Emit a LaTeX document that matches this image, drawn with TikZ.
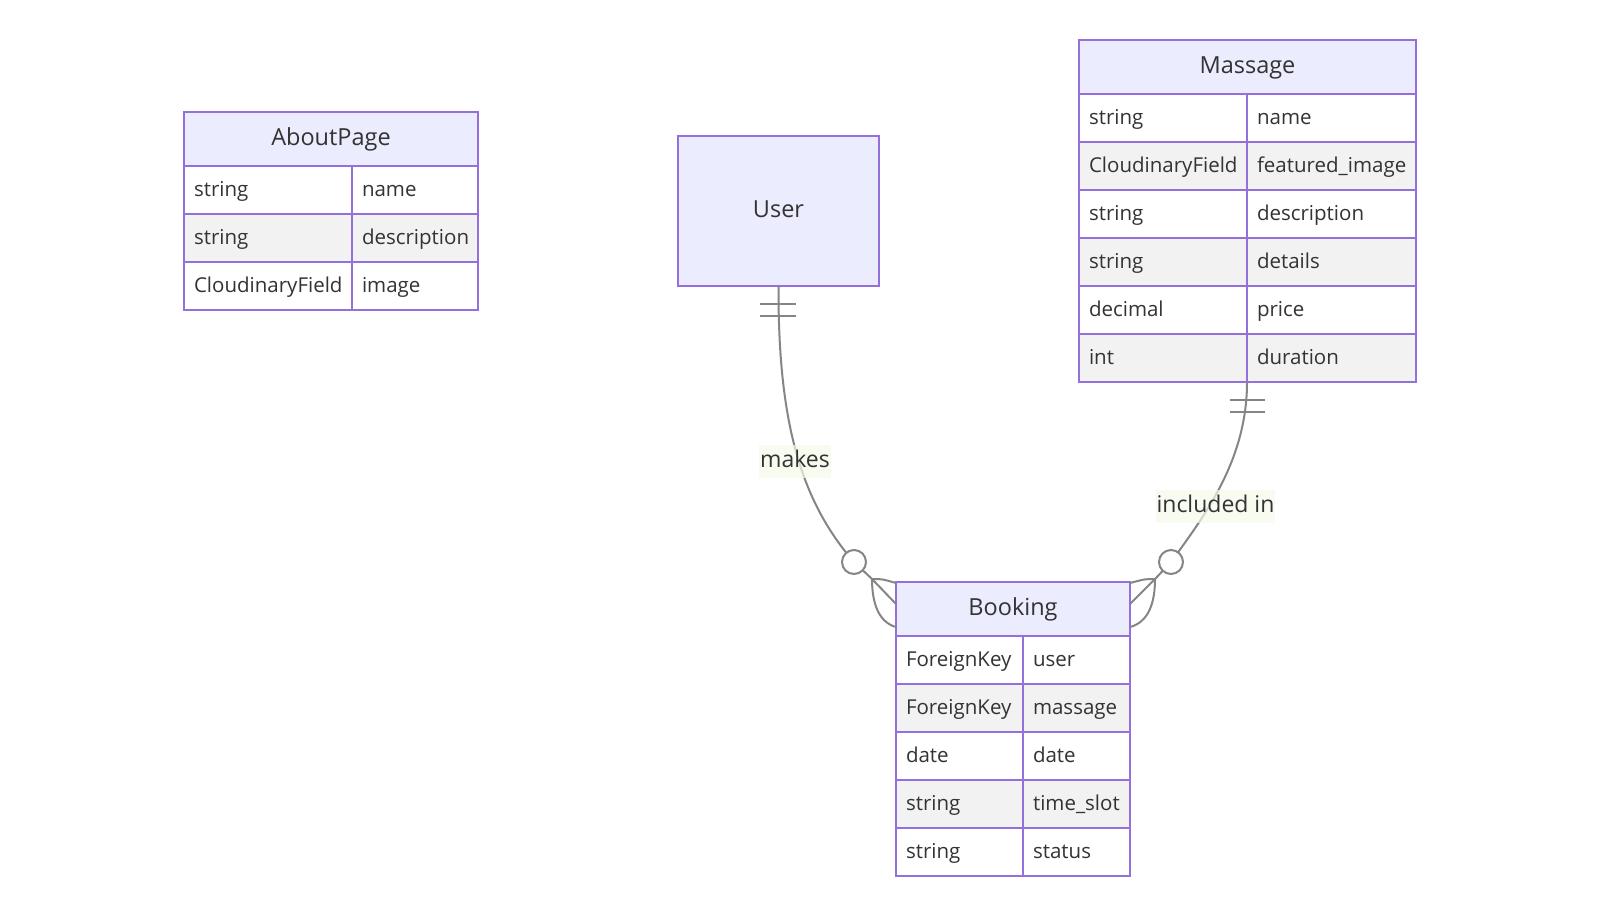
\documentclass[tikz,border=0pt]{standalone}
\usepackage{fontspec}
\setmainfont{Open Sans}
\usepackage{tikz}
\usetikzlibrary{shapes,arrows,positioning}
\definecolor{erfill}{HTML}{ECECFF}
\definecolor{erline}{HTML}{9370DB}
\definecolor{eralt}{HTML}{F2F2F2}
\definecolor{eredge}{HTML}{858585}
\definecolor{ertext}{HTML}{333333}
\definecolor{erlabel}{HTML}{F5F9E8}
\tikzstyle{ehead}=[rectangle, draw=erline, fill=erfill, line width=2pt, outer sep=0, minimum height=54, inner sep=0, text=ertext, font=\fontsize{23.5}{28}\selectfont, text height=18, text depth=6]
\tikzstyle{ecell}=[rectangle, draw=erline, line width=2pt, outer sep=0, minimum height=48, inner xsep=10, inner ysep=0, align=left, text=ertext, font=\fontsize{20.5}{24}\selectfont, text height=17, text depth=4]
\tikzstyle{eline}=[draw=eredge, line width=2pt]
\tikzstyle{elabel}=[fill=erlabel, fill opacity=0.7, text opacity=1, text=ertext, inner xsep=1, inner ysep=0, font=\fontsize{23}{28}\selectfont, text height=22, text depth=11]
\newcommand{\erow}[8]{
  \node[ecell, fill=#6, minimum width=#7, text width=\the\numexpr#7-20\relax pt, anchor=west] (#1t) at (#2,#3) {#4};
  \node[ecell, fill=#6, minimum width=#8, text width=\the\numexpr#8-20\relax pt, anchor=west] (#1f) at (#1t.east) {#5};}

\begin{document}
\begin{tikzpicture}[x=1pt, y=-1pt]
\useasboundingbox (0,0) rectangle (1600,916);

\node[ehead, minimum width=294, anchor=north west] (about) at (184,112) {AboutPage};
\erow{a1}{184}{190}{string}{name}{white}{168}{126}
\erow{a2}{184}{238}{string}{description}{eralt}{168}{126}
\erow{a3}{184}{286}{CloudinaryField}{image}{white}{168}{126}

\node[ehead, minimum width=201, minimum height=150, anchor=north west] (user) at (678,136) {User};

\node[ehead, minimum width=337, anchor=north west] (massage) at (1079,40) {Massage};
\erow{m1}{1079}{118}{string}{name}{white}{168}{169}
\erow{m2}{1079}{166}{CloudinaryField}{featured\_image}{eralt}{168}{169}
\erow{m3}{1079}{214}{string}{description}{white}{168}{169}
\erow{m4}{1079}{262}{string}{details}{eralt}{168}{169}
\erow{m5}{1079}{310}{decimal}{price}{white}{168}{169}
\erow{m6}{1079}{358}{int}{duration}{eralt}{168}{169}

\node[ehead, minimum width=234, anchor=north west] (booking) at (896,582) {Booking};
\erow{b1}{896}{660}{ForeignKey}{user}{white}{127}{107}
\erow{b2}{896}{708}{ForeignKey}{massage}{eralt}{127}{107}
\erow{b3}{896}{756}{date}{date}{white}{127}{107}
\erow{b4}{896}{804}{string}{time\_slot}{eralt}{127}{107}
\erow{b5}{896}{852}{string}{status}{white}{127}{107}

\coordinate (uo) at (854,562);
\coordinate (uf) at (872,579);
\coordinate (mo) at (1171,562);
\coordinate (mf) at (1155,579);

\draw[eline] (user.south) .. controls (778,420) and (800,500) .. (uo) -- (uf);
\draw[eline] (uf) .. controls (882,579) .. (896,583);
\draw[eline] (uf) -- (896,604);
\draw[eline] (uf) .. controls (872,602) and (878,622) .. (896,627);
\draw[eline, fill=white] (uo) circle (12);
\draw[eline] (760,304) -- (796,304);
\draw[eline] (760,316) -- (796,316);
\node[elabel] (makes) at (795,461.5) {makes};

\draw[eline] (m6t.south east) .. controls (1247,460) and (1205,515) .. (mo) -- (mf);
\draw[eline] (mf) .. controls (1145,579) .. (1130,583);
\draw[eline] (mf) -- (1130,604);
\draw[eline] (mf) .. controls (1155,602) and (1149,622) .. (1130,627);
\draw[eline, fill=white] (mo) circle (12);
\draw[eline] (1230,400) -- (1265,400);
\draw[eline] (1230,412) -- (1265,412);
\node[elabel] (incl) at (1215.5,506.7) {included in};

\end{tikzpicture}
\end{document}
